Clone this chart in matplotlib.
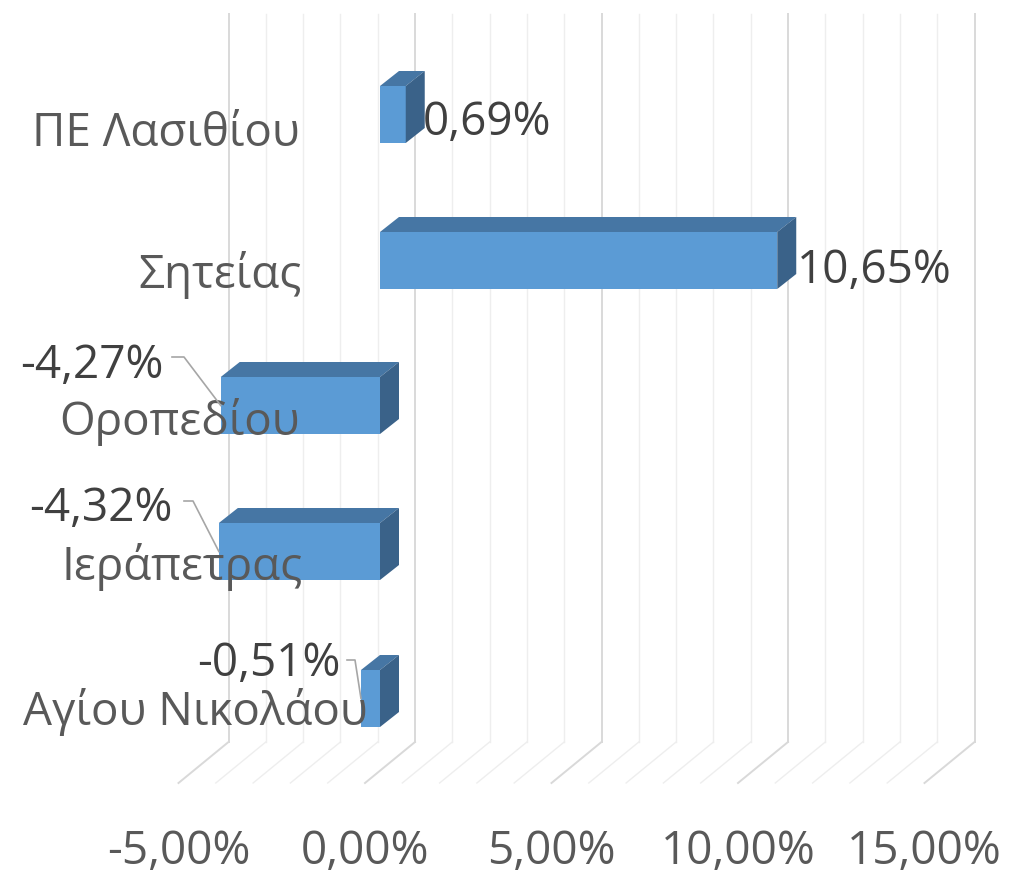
import numpy as np
import matplotlib
matplotlib.use("Agg")
import matplotlib.pyplot as plt
from matplotlib.patches import Polygon

# ── Data ────────────────────────────────────────────────────────────────
categories = ["ΠΕ Λασιθίου", "Σητείας", "Οροπεδίου", "Ιεράπετρας", "Αγίου Νικολάου"]
values = [0.69, 10.65, -4.27, -4.32, -0.51]
value_labels = ["0,69%", "10,65%", "-4,27%", "-4,32%", "-0,51%"]
xticks = [-5, 0, 5, 10, 15]
xtick_labels = ["-5,00%", "0,00%", "5,00%", "10,00%", "15,00%"]

# ── Layout (pixels of the 1010x876 canvas) ──────────────────────────────
W, H = 1010, 876
PPU = 37.3          # px per 1 %
X0 = 365            # front-floor zero
BACK_DX, BACK_DY = 50, -41
WALL_TOP, WALL_BOT = 14, 742
BAR_DX = 15         # bar front offset from the front plane
SIDE_DX, SIDE_DY = 19, -15
ROW_TOP = [86, 232, 377, 523, 670]
BAR_H = 57
CAT_RIGHT = [300, 302, 300, 303, 368]
CAT_BASE = [146, 288, 435, 580, 725]
LBL_X = [423, 797, 163, 172, 340]
LBL_BASE = [135, 283, 378, 521, 676]
LEADER = {2: [(172, 357), (184, 357)], 3: [(184, 501), (193, 501)],
          4: [(347, 660), (355, 660)]}

FONT = ["Open Sans", "DejaVu Sans"]
FS = 33


def px(p):
    return p / PPU


fig = plt.figure(figsize=(W / 100, H / 100), dpi=100)
ax = fig.add_axes([0, 0, 1, 1])
ax.set_xlim(-X0 / PPU, (W - X0) / PPU)
ax.set_ylim(H, 0)
ax.axis("off")

# ── gridlines: back wall + floor ──
for v in range(-5, 16):
    major = v % 5 == 0
    col = "#D9D9D9" if major else "#EEEEEE"
    lw = 1.4 if major else 1.0
    xb = v + px(BACK_DX)
    ax.plot([xb, xb], [WALL_TOP, WALL_BOT], color=col, lw=lw, zorder=1)
    ax.plot([xb, v], [WALL_BOT, WALL_BOT - BACK_DY], color=col, lw=lw, zorder=1)

# ── bars ──
for i, v in enumerate(values):
    left = min(0, v) + px(BAR_DX)
    right = max(0, v) + px(BAR_DX)
    top, bot = ROW_TOP[i], ROW_TOP[i] + BAR_H
    sx, sy = px(SIDE_DX), SIDE_DY
    front = Polygon([(left, top), (right, top), (right, bot), (left, bot)],
                    closed=True, facecolor="#5B9BD5", edgecolor="none", zorder=3)
    topf = Polygon([(left, top), (left + sx, top + sy), (right + sx, top + sy), (right, top)],
                   closed=True, facecolor="#4676A4", edgecolor="none", zorder=3)
    side = Polygon([(right, top), (right + sx, top + sy), (right + sx, bot + sy), (right, bot)],
                   closed=True, facecolor="#3A6289", edgecolor="none", zorder=3)
    for p in (front, topf, side):
        ax.add_patch(p)

# ── category labels ──
for i, c in enumerate(categories):
    ax.text(px(CAT_RIGHT[i] - X0), CAT_BASE[i], c, ha="right", va="baseline",
            fontsize=FS, color="#595959", family=FONT, zorder=4)

# ── leader lines ──
for i, pts in LEADER.items():
    xs = [px(p[0] - X0) for p in pts] + [min(0, values[i]) + px(BAR_DX)]
    ys = [p[1] for p in pts] + [ROW_TOP[i] + BAR_H / 2]
    ax.plot(xs, ys, color="#A6A6A6", lw=1.2, zorder=5)

# ── value labels ──
for i, lab in enumerate(value_labels):
    ha = "left" if values[i] >= 0 else "right"
    ax.text(px(LBL_X[i] - X0), LBL_BASE[i], lab, ha=ha, va="baseline",
            fontsize=FS, color="#404040", family=FONT, zorder=6)

# ── x tick labels ──
for t, lab in zip(xticks, xtick_labels):
    ax.text(t, 875, lab, ha="center", va="bottom",
            fontsize=FS, color="#595959", family=FONT)

fig.savefig("out.png", dpi=100)
